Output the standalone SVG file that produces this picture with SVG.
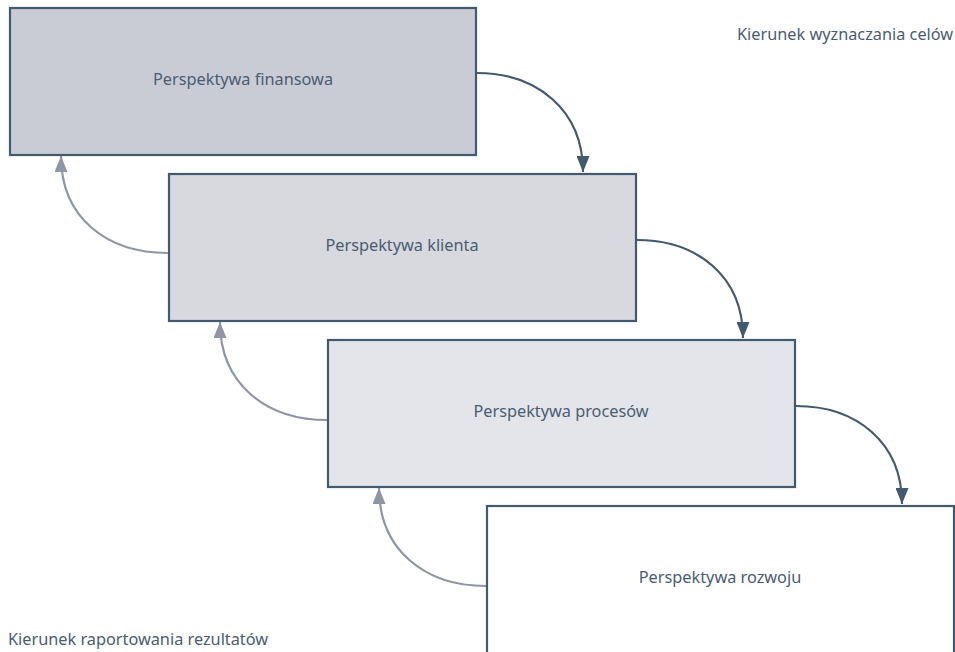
<svg xmlns="http://www.w3.org/2000/svg" width="955" height="652" viewBox="0 0 955 652">
<style>
.box{stroke:#43596e;stroke-width:2.2}
.lbl{font-family:"Noto Sans","Open Sans",sans-serif;font-size:16.3px;fill:#4a5c71;text-anchor:middle}
.cap{font-family:"Noto Sans","Open Sans",sans-serif;font-size:16.3px;fill:#4a5c71}
.dn{fill:none;stroke:#43596e;stroke-width:2.2}
.up{fill:none;stroke:#8e95a5;stroke-width:2.2}
</style>
<defs>
<marker id="ad" markerUnits="userSpaceOnUse" markerWidth="16" markerHeight="13" refX="16" refY="6.5" orient="auto" viewBox="0 0 16 13">
<path d="M0 0 L16 6.5 L0 13 Z" fill="#43596e"/>
</marker>
<marker id="au" markerUnits="userSpaceOnUse" markerWidth="16" markerHeight="13" refX="16" refY="6.5" orient="auto" viewBox="0 0 16 13">
<path d="M0 0 L16 6.5 L0 13 Z" fill="#8e95a5"/>
</marker>
</defs>
<g id="n1"><rect class="box" x="10" y="8" width="466" height="147" fill="#c9ccd5"/><text class="lbl" x="243" y="85">Perspektywa finansowa</text></g>
<g id="n2"><rect class="box" x="169" y="174" width="467" height="147" fill="#d7d9df"/><text class="lbl" x="402" y="251">Perspektywa klienta</text></g>
<g id="n3"><rect class="box" x="328" y="340" width="467" height="147" fill="#e4e5ea"/><text class="lbl" x="561" y="417">Perspektywa procesów</text></g>
<g id="n4"><rect class="box" x="487" y="506" width="467" height="160" fill="#ffffff"/><text class="lbl" x="720" y="583">Perspektywa rozwoju</text></g>
<g id="connectors">
<path class="dn" d="M477 73 C537 73 583 110 583 172" marker-end="url(#ad)" />
<path class="dn" d="M637 240 C697 240 743 276 743 338" marker-end="url(#ad)" />
<path class="dn" d="M796 406 C856 406 902 442 902 504" marker-end="url(#ad)" />
<path class="up" d="M168 253 C107 253 61 218 61 156" marker-end="url(#au)" />
<path class="up" d="M327 420 C266 420 220 384 220 322" marker-end="url(#au)" />
<path class="up" d="M486 586 C425 586 379 550 379 488" marker-end="url(#au)" />
</g>
<text class="cap" x="737" y="40">Kierunek wyznaczania celów</text>
<text class="cap" x="8" y="645">Kierunek raportowania rezultatów</text>
</svg>
